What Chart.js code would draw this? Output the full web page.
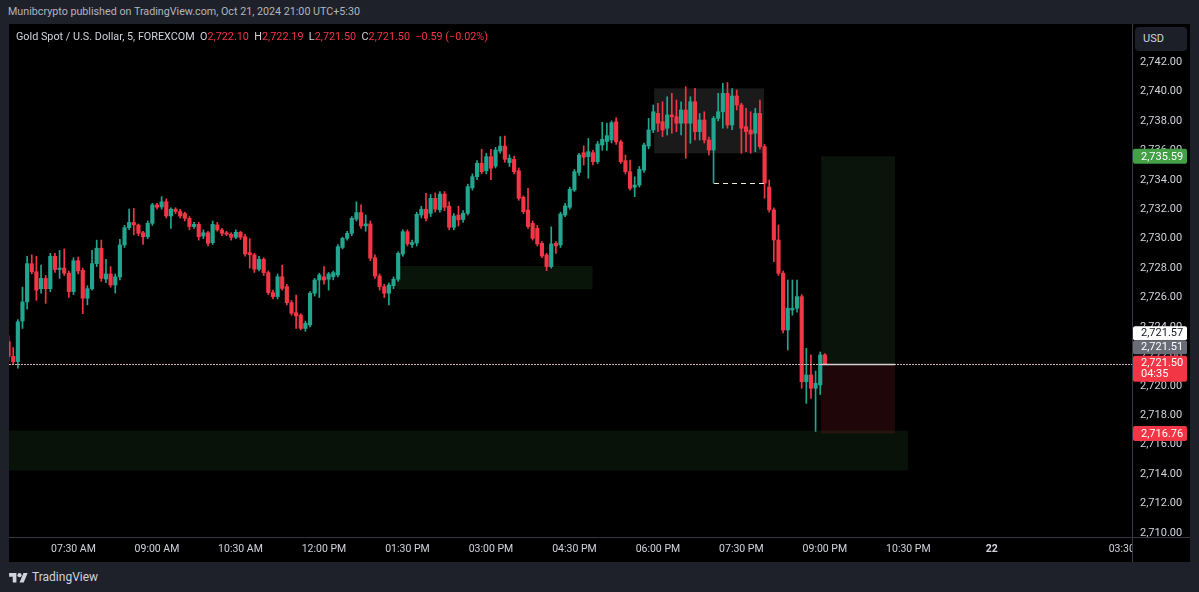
<!DOCTYPE html>
<html>
<head>
<meta charset="utf-8">
<title>Gold Spot / U.S. Dollar, 5, FOREXCOM</title>
<script src="https://cdn.jsdelivr.net/npm/chart.js@4.4.1/dist/chart.umd.min.js"></script>
<style>
  html, body { margin:0; padding:0; width:1199px; height:592px; overflow:hidden; background:#1e2129; font-family: Roboto, 'Noto Sans', Arial, sans-serif; }
  #pub { position:absolute; left:8px; top:5px; font-size:11px; line-height:14px; color:#b2b5be; white-space:nowrap; transform-origin:0 50%; }
  #frame { position:absolute; left:9px; top:24px; width:1181px; height:538px; background:#000; }
  #chart { position:absolute; left:0; top:0; }
  #legend { position:absolute; left:7px; top:6px; font-size:11px; line-height:14px; color:#d1d4dc; white-space:nowrap; transform-origin:0 50%; }
  #legend .v { color:#f23645; }
  #usd { position:absolute; left:1126px; top:3px; width:52px; height:24px; background:#1c1f27; border-radius:4px; color:#d1d4dc; font-size:11px; line-height:24px; text-indent:8px; }
  #brand { position:absolute; left:9px; top:570px; height:14px; display:flex; align-items:center; color:#d1d4dc; font-size:12px; }
  #brand svg { margin-right:4px; }
</style>
</head>
<body>
<div id="pub">Munibcrypto published on TradingView.com, Oct 21, 2024 21:00 UTC+5:30</div>
<div id="frame">
  <canvas id="chart" width="1181" height="538"></canvas>
  <div id="legend">Gold Spot / U.S. Dollar, 5, FOREXCOM&nbsp; O<span class="v">2,722.10</span>&nbsp; H<span class="v">2,722.19</span>&nbsp; L<span class="v">2,721.50</span>&nbsp; C<span class="v">2,721.50</span>&nbsp; <span class="v">−0.59 (−0.02%)</span></div>
  <div id="usd">USD</div>
</div>
<div id="brand"><svg width="19" height="12" viewBox="0 0 36 23"><path fill="#d1d4dc" d="M14 22H7V11H0V4h14v18zM28 22h-8l7.5-18h8L28 22z"/><circle fill="#d1d4dc" cx="20" cy="8" r="4"/></svg>TradingView</div>
<script>
// ---- 5-minute bars, Oct 21 2024 (IST), first bar 06:20 ----
const firstBarMinutes = 6 * 60 + 20;
const opens = [2723.0,2722.0,2721.65,2724.4,2725.7,2728.3,2727.75,2726.6,2727.3,2726.6,2728.8,2727.9,2728.0,2727.65,2726.4,2728.5,2727.85,2725.95,2726.6,2728.3,
2729.35,2727.25,2727.6,2726.85,2727.4,2729.57,2730.74,2731.1,2730.93,2730.4,2730.13,2731.04,2732.29,2732.15,2732.5,2731.54,2732.0,2731.84,2731.7,2731.38,
2730.82,2730.97,2730.18,2730.4,2729.72,2730.93,2730.59,2730.4,2730.29,2730.09,2730.43,2730.13,2729.05,2728.9,2727.92,2728.6,2727.69,2726.33,2726.06,2727.41,
2726.74,2725.65,2724.97,2724.81,2723.9,2724.13,2726.29,2727.19,2727.41,2727.24,2727.41,2727.53,2729.4,2730.02,2730.36,2731.32,2731.77,2730.86,2731.0,2728.7,
2727.46,2726.74,2726.29,2726.8,2727.24,2728.95,2730.47,2729.6,2729.7,2731.6,2732.0,2731.72,2732.74,2731.95,2733.03,2732.2,2730.77,2731.6,2731.3,2731.72,
2733.45,2734.21,2735.12,2734.61,2735.57,2734.93,2735.95,2736.29,2735.16,2735.39,2734.61,2732.81,2731.95,2731.04,2730.7,2729.68,2728.89,2728.1,2729.68,2729.57,
2731.6,2732.13,2733.3,2734.5,2735.84,2735.57,2735.84,2735.23,2736.36,2736.6,2736.7,2737.94,2736.58,2735.3,2734.55,2733.49,2733.64,2734.66,2736.29,2737.38,
2738.51,2737.94,2737.5,2738.4,2738.28,2737.84,2738.74,2737.84,2739.3,2737.27,2738.06,2736.7,2736.02,2738.17,2738.62,2739.87,2737.72,2739.69,2739.08,2737.61,
2737.38,2737.16,2738.51,2736.25,2733.5,2731.95,2729.91,2727.65,2723.79,2725.15,2725.27,2726.06,2720.28,2720.74,2719.83,2720.06,2722.10];
const highs = [2723.4,2722.6,2724.5,2726.7,2728.8,2728.9,2728.8,2728.2,2727.5,2729.0,2729.0,2729.2,2729.3,2727.8,2728.7,2728.75,2728.0,2726.8,2729.2,2729.9,
2729.9,2728.6,2728.1,2727.6,2729.95,2730.9,2732.0,2732.05,2731.0,2730.5,2731.2,2732.4,2732.4,2732.85,2732.7,2732.1,2732.1,2732.0,2731.8,2731.5,
2731.1,2731.1,2730.6,2730.5,2731.2,2731.1,2730.7,2730.5,2730.4,2730.6,2730.5,2730.3,2730.0,2729.0,2728.8,2728.7,2727.8,2726.5,2727.6,2728.2,
2726.9,2725.8,2726.17,2724.9,2724.4,2726.4,2727.3,2727.65,2728.1,2727.7,2727.8,2729.6,2730.1,2730.5,2731.5,2732.5,2732.3,2731.6,2731.2,2728.9,
2727.6,2726.9,2727.0,2727.4,2729.1,2730.6,2730.6,2729.9,2731.8,2732.2,2733.08,2733.0,2733.1,2733.2,2733.2,2732.5,2731.7,2732.2,2731.9,2733.7,
2734.4,2735.3,2736.07,2735.8,2736.07,2736.2,2736.93,2736.97,2735.7,2735.6,2734.8,2732.9,2733.42,2731.2,2730.9,2729.8,2729.0,2730.8,2729.8,2731.8,
2732.4,2733.5,2734.7,2735.8,2736.3,2736.8,2736.0,2736.6,2737.9,2737.85,2738.0,2738.2,2736.7,2735.68,2735.34,2734.2,2734.9,2736.5,2738.17,2739.08,
2739.19,2739.3,2739.64,2739.87,2739.42,2739.3,2740.32,2739.64,2740.21,2738.5,2738.62,2736.9,2738.3,2739.87,2740.55,2740.6,2740.2,2740.1,2739.2,2738.85,
2738.62,2738.85,2739.42,2736.4,2733.98,2732.1,2730.93,2727.8,2727.19,2727.19,2727.19,2726.2,2722.55,2722.1,2721.0,2722.3,2722.19];
const lows = [2721.7,2721.5,2721.2,2723.9,2725.2,2727.6,2725.8,2726.3,2725.6,2726.4,2727.7,2727.3,2727.5,2726.0,2726.2,2727.6,2724.9,2725.5,2726.5,2728.1,
2727.1,2727.0,2726.7,2726.3,2727.2,2729.4,2730.6,2730.25,2730.2,2729.6,2730.0,2730.9,2732.0,2732.0,2731.4,2730.7,2731.7,2731.4,2731.2,2730.6,
2730.7,2729.9,2730.0,2729.5,2729.6,2730.5,2730.2,2730.2,2729.9,2730.0,2729.95,2728.8,2728.0,2727.7,2727.8,2727.5,2726.2,2725.9,2725.9,2726.5,
2725.5,2724.8,2723.9,2723.8,2723.7,2724.0,2726.1,2726.0,2726.9,2726.5,2727.2,2727.4,2729.3,2729.9,2730.2,2731.2,2730.7,2730.5,2728.5,2727.3,
2726.5,2726.0,2725.5,2726.6,2727.1,2728.8,2729.5,2729.4,2729.5,2731.4,2731.2,2731.5,2731.8,2731.8,2731.9,2730.6,2730.6,2730.86,2731.1,2731.6,
2733.3,2734.0,2734.4,2734.4,2734.0,2734.8,2735.8,2735.2,2734.9,2734.4,2732.6,2731.7,2730.7,2729.9,2729.5,2728.7,2727.83,2728.0,2729.0,2729.4,
2731.5,2732.0,2733.2,2734.3,2735.0,2734.1,2735.0,2735.1,2736.0,2736.0,2736.5,2736.4,2735.1,2734.4,2733.3,2732.85,2733.5,2734.5,2736.1,2737.2,
2737.27,2736.93,2737.04,2737.16,2737.27,2737.04,2735.46,2736.48,2736.7,2736.7,2736.5,2735.68,2733.76,2738.0,2737.5,2737.5,2737.4,2738.74,2735.8,2735.91,
2735.8,2735.9,2736.1,2732.74,2731.8,2728.43,2727.5,2723.6,2722.43,2724.8,2725.0,2719.83,2718.81,2719.15,2716.9,2719.4,2721.50];
const closes = [2722.0,2721.65,2724.35,2725.7,2728.3,2727.75,2726.5,2727.3,2726.6,2728.8,2727.9,2728.0,2727.65,2726.4,2728.5,2727.8,2725.95,2726.6,2728.3,2729.35,
2727.3,2727.6,2726.85,2727.4,2729.57,2730.74,2731.1,2730.93,2730.36,2730.13,2731.04,2732.29,2732.13,2732.5,2731.54,2732.0,2731.84,2731.54,2731.38,2730.82,
2730.97,2730.13,2730.4,2729.68,2730.97,2730.59,2730.36,2730.3,2730.09,2730.43,2730.09,2728.96,2728.9,2727.92,2728.6,2727.69,2726.33,2726.06,2727.41,2726.62,
2725.65,2724.93,2724.75,2723.9,2724.25,2726.29,2727.19,2727.53,2727.19,2727.6,2727.69,2729.45,2730.02,2730.36,2731.38,2731.77,2730.86,2731.0,2728.67,2727.46,
2726.74,2726.29,2726.85,2727.24,2729.0,2730.47,2729.64,2729.73,2731.65,2732.0,2731.38,2732.74,2732.0,2733.03,2732.13,2730.77,2731.54,2731.27,2731.72,2733.53,
2734.21,2735.12,2734.55,2735.57,2734.78,2736.02,2736.29,2735.39,2735.46,2734.55,2732.74,2731.83,2730.82,2730.02,2729.64,2728.82,2728.1,2729.64,2729.5,2731.67,
2732.22,2733.35,2734.55,2735.68,2735.53,2735.91,2735.23,2736.43,2736.75,2737.0,2737.88,2736.58,2735.23,2734.55,2733.42,2733.64,2734.71,2736.36,2737.38,2738.62,
2737.84,2737.38,2738.4,2738.28,2737.84,2738.74,2737.84,2739.3,2737.27,2738.06,2736.7,2736.02,2738.17,2738.62,2739.87,2737.72,2739.69,2739.08,2737.5,2737.27,
2737.1,2738.51,2736.25,2733.76,2731.95,2729.91,2727.65,2723.79,2725.27,2725.27,2726.06,2720.28,2720.74,2719.83,2720.17,2722.1,2721.50];

// bar time labels (categories)
const barTimes = opens.map((_, i) => {
  const m = firstBarMinutes + 5 * i;
  return String(Math.floor(m / 60)).padStart(2, '0') + ':' + String(m % 60).padStart(2, '0');
});

// time-axis labels and the bar slot where each falls
const xTickLabels = ['07:30 AM','09:00 AM','10:30 AM','12:00 PM','01:30 PM','03:00 PM','04:30 PM','06:00 PM','07:30 PM','09:00 PM','10:30 PM','22','03:30'];
const xTickSlots  = [14, 32, 50, 68, 86, 104, 122, 140, 158, 176, 194, 212, 240];
// price-axis labels
const yTickValues = [2710,2712,2714,2716,2718,2720,2722,2724,2726,2728,2730,2732,2734,2736,2738,2740,2742];

// drawings (slot / price units)
const zones = [
  { from: 139.2, to: 162.9, top: 2740.21, bottom: 2735.80, fill: 'rgba(255,255,255,0.10)' },
  { from: 83.7,  to: 125.9, top: 2728.14, bottom: 2726.56, fill: 'rgba(80,165,80,0.13)' },
  { from: 0,     to: 193.9, top: 2716.95, bottom: 2714.24, fill: 'rgba(80,165,80,0.11)' },
  { from: 175.2, to: 191.1, top: 2735.59, bottom: 2721.50, fill: 'rgba(80,165,80,0.12)' },
  { from: 175.2, to: 191.1, top: 2721.50, bottom: 2716.76, fill: 'rgba(242,54,69,0.13)' }
];
const lastPrice = 2721.50;
const sweepLine = { from: 152.1, to: 163.3, price: 2733.76 };
const badges = [
  { text: '2,735.59', price: 2735.59, offset: 0,    h: 15, bg: '#43a047', fg: '#ffffff' },
  { text: '2,721.57', price: 2721.50, offset: -30.5, h: 14, bg: '#ffffff', fg: '#131722' },
  { text: '2,721.51', price: 2721.50, offset: -16.5, h: 14, bg: '#6a6d78', fg: '#ffffff' },
  { text: '2,721.50', sub: '04:35', price: 2721.50, offset: 5, h: 26, bg: '#f23645', fg: '#ffffff' },
  { text: '2,716.76', price: 2716.76, offset: 0,    h: 15, bg: '#f23645', fg: '#ffffff' }
];

const UP = '#22a68f', DOWN = '#f23645';
const colors = opens.map((o, i) => closes[i] >= o ? UP : DOWN);

const overlay = {
  id: 'overlay',
  beforeDatasetsDraw(chart) {
    const { ctx, chartArea: a, scales: { x, y } } = chart;
    ctx.save();
    ctx.beginPath(); ctx.rect(a.left, a.top, a.right - a.left, a.bottom - a.top); ctx.clip();
    zones.forEach(z => {
      const x0 = x.getPixelForValue(z.from), x1 = x.getPixelForValue(z.to);
      const y0 = y.getPixelForValue(z.top), y1 = y.getPixelForValue(z.bottom);
      ctx.fillStyle = z.fill;
      ctx.fillRect(x0, y0, x1 - x0, y1 - y0);
    });
    ctx.restore();
  },
  afterDatasetsDraw(chart) {
    const { ctx, chartArea: a, scales: { x, y } } = chart;
    ctx.save();
    ctx.beginPath(); ctx.rect(a.left, a.top, a.right - a.left, a.bottom - a.top); ctx.clip();
    const py = Math.round(y.getPixelForValue(lastPrice)) + 0.5;
    ctx.strokeStyle = 'rgba(236,196,200,0.9)';
    ctx.lineWidth = 1;
    ctx.setLineDash([2, 1]);
    ctx.beginPath(); ctx.moveTo(a.left, py); ctx.lineTo(a.right, py); ctx.stroke();
    ctx.setLineDash([]);
    ctx.strokeStyle = '#d2d2d4';
    ctx.lineWidth = 1.6;
    ctx.beginPath(); ctx.moveTo(x.getPixelForValue(zones[3].from), py); ctx.lineTo(x.getPixelForValue(zones[3].to), py); ctx.stroke();
    const sy = Math.round(y.getPixelForValue(sweepLine.price)) + 0.5;
    ctx.strokeStyle = '#f3ead2';
    ctx.lineWidth = 1;
    ctx.setLineDash([5, 4]);
    ctx.beginPath(); ctx.moveTo(x.getPixelForValue(sweepLine.from), sy); ctx.lineTo(x.getPixelForValue(sweepLine.to), sy); ctx.stroke();
    ctx.restore();
  },
  afterDraw(chart) {
    const { ctx, chartArea: a, scales: { y } } = chart;
    const W = chart.width, H = chart.height;
    ctx.save();
    // corner under price axis (clips overflowing time label)
    ctx.fillStyle = '#000';
    ctx.fillRect(a.right + 0.5, a.bottom + 1, W - a.right, H - a.bottom);
    ctx.strokeStyle = '#363a45';
    ctx.lineWidth = 1;
    ctx.beginPath(); ctx.moveTo(Math.round(a.right) + 0.5, 0); ctx.lineTo(Math.round(a.right) + 0.5, H); ctx.stroke();
    ctx.beginPath(); ctx.moveTo(0, Math.round(a.bottom) + 0.5); ctx.lineTo(W, Math.round(a.bottom) + 0.5); ctx.stroke();
    // price badges
    const bx = a.right + 1, bw = 54;
    ctx.font = '11px Roboto, "Noto Sans", sans-serif';
    ctx.textBaseline = 'middle';
    ctx.textAlign = 'left';
    badges.forEach(b => {
      const cy = y.getPixelForValue(b.price) + b.offset;
      const top = b.sub ? y.getPixelForValue(b.price) - 8 : cy - b.h / 2;
      ctx.fillStyle = b.bg;
      ctx.beginPath();
      if (ctx.roundRect) ctx.roundRect(bx, top, bw, b.h, 2); else ctx.rect(bx, top, bw, b.h);
      ctx.fill();
      ctx.fillStyle = b.fg;
      if (b.sub) {
        ctx.fillText(b.text, bx + 8, top + 7.5);
        ctx.fillText(b.sub, bx + 8, top + 19);
      } else {
        ctx.fillText(b.text, bx + 8, top + b.h / 2 + 0.5);
      }
    });
    ctx.restore();
  }
};

const zeroPad = s => { s.paddingTop = 0; s.paddingBottom = 0; s.paddingLeft = 0; s.paddingRight = 0; };

new Chart(document.getElementById('chart'), {
  type: 'bar',
  data: {
    labels: barTimes,
    datasets: [
      { label: 'wick', data: opens.map((_, i) => ({ x: i, y: [lows[i], highs[i]] })), backgroundColor: colors, barThickness: 1, grouped: false, order: 2 },
      { label: 'body', data: opens.map((_, i) => ({ x: i, y: [opens[i], closes[i]] })), backgroundColor: colors, barThickness: 3.5, minBarLength: 1, grouped: false, order: 1 }
    ]
  },
  options: {
    responsive: false,
    devicePixelRatio: 1,
    animation: false,
    layout: { padding: 0 },
    plugins: { legend: { display: false }, tooltip: { enabled: false } },
    scales: {
      x: {
        type: 'linear', position: 'bottom', min: 0.093, max: 242.22, offset: false, bounds: 'data',
        grid: { display: false, drawTicks: false },
        border: { display: false },
        afterBuildTicks: s => { s.ticks = xTickSlots.map(v => ({ value: v })); },
        afterFit: s => { s.height = 25; zeroPad(s); },
        ticks: {
          autoSkip: false, maxRotation: 0, padding: 6, color: '#d1d4dc',
          font: c => ({ family: 'Roboto', size: 10.5, weight: (c.index === 11) ? 'bold' : 'normal' }),
          callback: (v, i) => xTickLabels[i]
        }
      },
      y: {
        type: 'linear', position: 'right', min: 2709.728, max: 2744.582, bounds: 'data',
        grid: { display: false, drawTicks: false },
        border: { display: false },
        afterBuildTicks: s => { s.ticks = yTickValues.map(v => ({ value: v })); },
        afterFit: s => { s.width = 58; zeroPad(s); },
        ticks: {
          padding: 8, color: '#d1d4dc', font: { family: 'Roboto', size: 11 },
          callback: v => Number(v).toLocaleString('en-US', { minimumFractionDigits: 2, maximumFractionDigits: 2 })
        }
      }
    }
  },
  plugins: [overlay]
});

function fitWidth(id, w) {
  const el = document.getElementById(id);
  el.style.transform = 'none';
  const r = el.getBoundingClientRect().width;
  if (r > 0) el.style.transform = 'scaleX(' + (w / r) + ')';
}
fitWidth('pub', 352);
fitWidth('legend', 472);
</script>
</body>
</html>
